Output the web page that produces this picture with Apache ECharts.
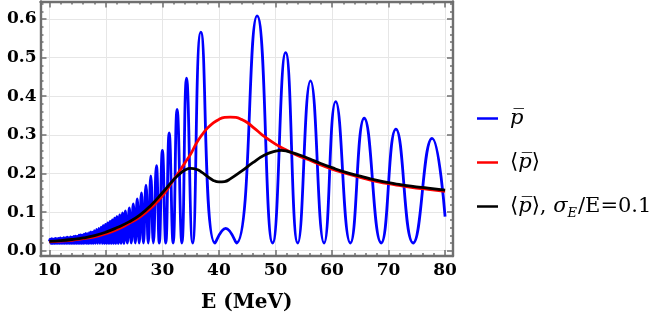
<!DOCTYPE html>
<html>
<head>
<meta charset="utf-8">
<script src="https://cdn.jsdelivr.net/npm/echarts@6/dist/echarts.min.js"></script>
<style>
  html, body { margin: 0; padding: 0; background: #fff; }
  #chart { width: 664px; height: 328px; }
</style>
</head>
<body>
<div id="chart"></div>
<script>
// tick positions
var xMajor = [10, 20, 30, 40, 50, 60, 70, 80];
var xMinor = [10, 12, 14, 16, 18, 20, 22, 24, 26, 28, 30, 32, 34, 36, 38, 40, 42, 44, 46, 48,
              50, 52, 54, 56, 58, 60, 62, 64, 66, 68, 70, 72, 74, 76, 78, 80];
var yMajor = [0, 0.1, 0.2, 0.3, 0.4, 0.5, 0.6];
var yMinor = [0, 0.02, 0.04, 0.06, 0.08, 0.1, 0.12, 0.14, 0.16, 0.18, 0.2, 0.22, 0.24, 0.26, 0.28,
              0.3, 0.32, 0.34, 0.36, 0.38, 0.4, 0.42, 0.44, 0.46, 0.48, 0.5, 0.52, 0.54, 0.56, 0.58,
              0.6, 0.62, 0.64];

// p-bar (blue): maxima
var peakE = [10.15, 10.45, 10.75, 11.05, 11.35, 11.65, 11.95, 12.25, 12.55, 12.85, 13.15, 13.45, 13.75,
             14.05, 14.35, 14.65, 14.95, 15.25, 15.55, 15.85, 16.15, 16.45, 16.75, 17.05, 17.35, 17.65,
             17.95, 18.35, 18.75, 19.15, 19.55, 19.95, 20.35, 20.75, 21.15, 21.55, 21.95, 22.45, 22.95,
             23.45, 24.15, 24.85, 25.55, 26.3, 27.1, 27.95, 28.95, 30.0, 31.2, 32.6, 34.27, 36.8, 41.2,
             46.75, 51.8, 56.2, 60.65, 65.7, 71.3, 77.7];
var peakP = [0.030, 0.031, 0.030, 0.032, 0.031, 0.032, 0.033, 0.032, 0.034, 0.033, 0.035, 0.034, 0.036,
             0.035, 0.037, 0.038, 0.037, 0.040, 0.041, 0.040, 0.043, 0.045, 0.044, 0.047, 0.049, 0.048,
             0.052, 0.055, 0.058, 0.061, 0.065, 0.068, 0.072, 0.076, 0.080, 0.084, 0.088, 0.093, 0.098,
             0.103, 0.111, 0.121, 0.134, 0.150, 0.170, 0.194, 0.220, 0.260, 0.305, 0.366, 0.447, 0.566, 0.058,
             0.608, 0.513, 0.440, 0.386, 0.343, 0.315, 0.291];
// p-bar (blue): minima and the two end points
var troughE = [10.0, 10.3, 10.6, 10.9, 11.2, 11.5, 11.8, 12.1, 12.4, 12.7, 13.0, 13.3, 13.6, 13.9, 14.2,
               14.5, 14.8, 15.1, 15.4, 15.7, 16.0, 16.3, 16.6, 16.9, 17.2, 17.5, 17.8, 18.15, 18.55, 18.95,
               19.35, 19.75, 20.15, 20.55, 20.95, 21.35, 21.75, 22.2, 22.7, 23.2, 23.8, 24.5, 25.2, 25.9,
               26.65, 27.5, 28.4, 29.45, 30.6, 31.9, 33.45, 35.35, 39.3, 43.1, 49.5, 53.95, 58.6, 63.25,
               68.7, 74.35, 80.0];
var troughP = [0.024, 0.019, 0.019, 0.019, 0.019, 0.019, 0.019, 0.019, 0.019, 0.019, 0.019, 0.019, 0.019,
               0.019, 0.019, 0.019, 0.019, 0.019, 0.019, 0.019, 0.019, 0.019, 0.019, 0.019, 0.019, 0.019,
               0.019, 0.019, 0.019, 0.019, 0.019, 0.019, 0.019, 0.019, 0.019, 0.019, 0.019, 0.019, 0.019,
               0.019, 0.020, 0.020, 0.020, 0.020, 0.020, 0.020, 0.020, 0.020, 0.020, 0.020, 0.020, 0.020,
               0.020, 0.020, 0.020, 0.020, 0.020, 0.020, 0.020, 0.020, 0.088];

// <p-bar> (red)
var redE = [10, 12, 14, 16, 18, 20, 22, 24, 26, 28, 30, 32, 33, 34, 35, 36, 37, 38, 39, 40, 41, 42,
            43, 44, 45, 46, 47, 48, 50, 52, 54, 56, 58, 60, 62, 65, 68, 71, 74, 77, 80];
var redP = [0.023, 0.025, 0.027, 0.031, 0.036, 0.044, 0.055, 0.070, 0.087, 0.111, 0.142, 0.184, 0.205,
            0.228, 0.250, 0.278, 0.300, 0.318, 0.331, 0.340, 0.345, 0.346, 0.345, 0.340, 0.332, 0.320,
            0.308, 0.296, 0.276, 0.260, 0.246, 0.235, 0.222, 0.211, 0.202, 0.190, 0.179, 0.171, 0.164,
            0.159, 0.154];

// <p-bar>, sigma_E/E = 0.1 (black)
var blackE = [10, 12, 14, 16, 18, 20, 22, 24, 26, 28, 30, 32, 33, 34, 35, 36, 37, 38, 39, 40, 41, 42,
              44, 46, 48, 50, 51, 52, 54, 56, 58, 60, 62, 65, 68, 71, 74, 77, 80];
var blackP = [0.024, 0.026, 0.029, 0.033, 0.039, 0.048, 0.060, 0.074, 0.092, 0.118, 0.150, 0.184, 0.198,
              0.209, 0.213, 0.211, 0.203, 0.192, 0.182, 0.178, 0.179, 0.186, 0.206, 0.228, 0.247, 0.258,
              0.260, 0.258, 0.249, 0.238, 0.226, 0.215, 0.205, 0.193, 0.182, 0.174, 0.167, 0.162, 0.157];

var seriesNames = ['pbar', 'avg', 'avgres'];
var legendText = {
    pbar: '{i|p\u0305}',
    avg: '\u27E8{i|p\u0305}\u27E9',
    avgres: '\u27E8{i|p\u0305}\u27E9, {i|\u03C3}{sub|E}/E=0.1'
};

function pairs(xs, ys) {
    var out = [];
    for (var i = 0; i < xs.length; i++) out.push([xs[i], ys[i]]);
    return out;
}

var blueData = pairs(peakE, peakP).concat(pairs(troughE, troughP));
blueData.sort(function (a, b) { return a[0] - b[0]; });

var frameColor = '#6f6f6f';
var tickFont = { fontFamily: 'DejaVu Serif', fontWeight: 'bold', fontSize: 17, color: '#000' };

function frameAxis(dim, pos, ticks, len, main) {
    return {
        type: 'value',
        position: pos,
        min: dim === 'x' ? 8.44 : -0.0137,
        max: dim === 'x' ? 81.4 : 0.6453,
        axisLine: { show: main, onZero: false, lineStyle: { color: frameColor, width: 2.4 } },
        axisTick: { show: true, inside: true, length: len, customValues: ticks,
                    lineStyle: { color: frameColor, width: 1.5 } },
        axisLabel: { show: false },
        splitLine: { show: false }
    };
}

var xAxes = [
    frameAxis('x', 'bottom', xMajor, 6, true),
    frameAxis('x', 'bottom', xMinor, 3, false),
    frameAxis('x', 'top', xMajor, 6, true),
    frameAxis('x', 'top', xMinor, 3, false)
];
xAxes[0].axisLabel = Object.assign({ show: true, customValues: xMajor, margin: 6 }, tickFont);
xAxes[0].splitLine = { show: true, lineStyle: { color: '#e6e6e6', width: 1 } };
xAxes[0].name = 'E (MeV)';
xAxes[0].nameLocation = 'middle';
xAxes[0].nameGap = 37;
xAxes[0].nameTextStyle = { fontFamily: 'DejaVu Serif', fontWeight: 'bold', fontSize: 20, color: '#000' };

var yAxes = [
    frameAxis('y', 'left', yMajor, 6, true),
    frameAxis('y', 'left', yMinor, 3, false),
    frameAxis('y', 'right', yMajor, 6, true),
    frameAxis('y', 'right', yMinor, 3, false)
];
yAxes[0].axisLabel = Object.assign({ show: true, customValues: yMajor, margin: 4,
    formatter: function (v) { return v.toFixed(1); } }, tickFont);
yAxes[0].splitLine = { show: true, lineStyle: { color: '#e6e6e6', width: 1 } };

var option = {
    animation: false,
    backgroundColor: '#fff',
    grid: { left: 40.5, right: 211, top: 1.5, bottom: 72 },
    xAxis: xAxes,
    yAxis: yAxes,
    legend: {
        orient: 'vertical',
        left: 472,
        top: 100,
        icon: 'rect',
        itemWidth: 21,
        itemHeight: 2.5,
        itemGap: 17,
        data: seriesNames,
        formatter: function (name) { return legendText[name]; },
        textStyle: {
            fontFamily: 'DejaVu Serif',
            fontSize: 21,
            color: '#000',
            lineHeight: 27,
            padding: [0, 0, 0, 7],
            rich: {
                i: { fontFamily: 'DejaVu Serif', fontStyle: 'italic', fontSize: 21, lineHeight: 27 },
                sub: { fontFamily: 'DejaVu Serif', fontStyle: 'italic', fontSize: 13,
                       verticalAlign: 'bottom', lineHeight: 16, padding: [9, 1, 0, 0] }
            }
        }
    },
    series: [
        { name: 'pbar', type: 'line', data: blueData, smooth: true, showSymbol: false,
          lineStyle: { color: '#0000ff', width: 2.8 }, itemStyle: { color: '#0000ff' } },
        { name: 'avg', type: 'line', data: pairs(redE, redP), smooth: true, showSymbol: false,
          lineStyle: { color: '#ff0000', width: 2.8 }, itemStyle: { color: '#ff0000' } },
        { name: 'avgres', type: 'line', data: pairs(blackE, blackP), smooth: true, showSymbol: false,
          lineStyle: { color: '#000', width: 2.8 }, itemStyle: { color: '#000' } }
    ]
};

var chart = echarts.init(document.getElementById('chart'));
chart.setOption(option);
</script>
</body>
</html>
